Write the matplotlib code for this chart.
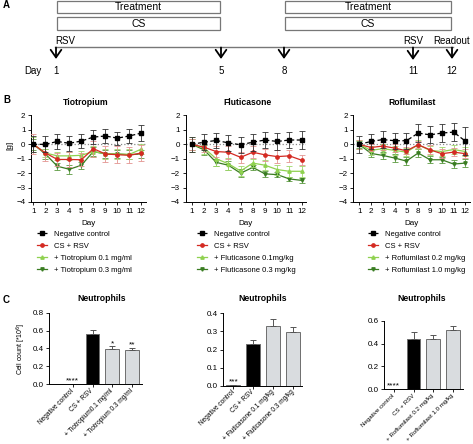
import numpy as np
import matplotlib.pyplot as plt
from matplotlib.patches import Rectangle
from matplotlib.lines import Line2D

plt.rcParams['font.family'] = ['Liberation Sans', 'DejaVu Sans']

W, H = 473, 444

# ---- data ----
# A: study timeline
timeline_days = [1, 5, 8, 11, 12]
timeline_events = ['RSV', '', '', 'RSV', 'Readout']
periods = [(1, 5), (8, 12)]

# B: body weight change [g]
days = [1, 2, 3, 4, 5, 8, 9, 10, 11, 12]
line_labels_common = ['Negative control', 'CS + RSV']

tio_labels = ['+ Tiotropium 0.1 mg/ml', '+ Tiotropium 0.3 mg/ml']
tio_neg = [0.0, 0.0, 0.2, 0.07, 0.23, 0.5, 0.58, 0.43, 0.58, 0.78]
tio_neg_err = [0.55, 0.55, 0.5, 0.5, 0.5, 0.5, 0.5, 0.45, 0.5, 0.55]
tio_cs = [0.0, -0.6, -1.05, -1.05, -1.07, -0.3, -0.67, -0.72, -0.76, -0.6]
tio_cs_err = [0.7, 0.55, 0.45, 0.5, 0.45, 0.55, 0.55, 0.6, 0.55, 0.55]
tio_low = [0.0, -0.6, -0.8, -0.8, -0.76, -0.5, -0.65, -0.67, -0.7, -0.33]
tio_low_err = [0.5, 0.3, 0.3, 0.3, 0.3, 0.35, 0.35, 0.35, 0.35, 0.35]
tio_high = [0.0, -0.67, -1.52, -1.73, -1.45, -0.5, -0.67, -0.67, -0.72, -0.67]
tio_high_err = [0.4, 0.35, 0.25, 0.3, 0.25, 0.3, 0.3, 0.3, 0.3, 0.3]

flu_labels = ['+ Fluticasone 0.1mg/kg', '+ Fluticasone 0.3 mg/kg']
flu_neg = [0.0, 0.15, 0.27, 0.1, -0.03, 0.15, 0.3, 0.2, 0.3, 0.3]
flu_neg_err = [0.5, 0.55, 0.55, 0.55, 0.55, 0.6, 0.55, 0.6, 0.55, 0.6]
flu_cs = [0.0, -0.2, -0.5, -0.55, -0.9, -0.55, -0.73, -0.85, -0.8, -1.1]
flu_cs_err = [0.4, 0.35, 0.4, 0.45, 0.4, 0.4, 0.4, 0.45, 0.4, 0.35]
flu_low = [0.0, -0.25, -1.0, -1.35, -1.85, -1.3, -1.45, -1.75, -1.87, -1.87]
flu_low_err = [0.5, 0.4, 0.5, 0.4, 0.35, 0.3, 0.35, 0.35, 0.4, 0.4]
flu_high = [0.0, -0.38, -1.25, -1.45, -2.0, -1.6, -2.05, -2.1, -2.4, -2.5]
flu_high_err = [0.4, 0.35, 0.25, 0.3, 0.3, 0.2, 0.2, 0.2, 0.15, 0.15]

rof_labels = ['+ Roflumilast 0.2 mg/kg', '+ Roflumilast 1.0 mg/kg']
rof_neg = [0.0, 0.2, 0.33, 0.25, 0.25, 0.78, 0.66, 0.78, 0.85, 0.22]
rof_neg_err = [0.6, 0.55, 0.6, 0.55, 0.55, 0.6, 0.6, 0.6, 0.6, 0.95]
rof_cs = [0.0, -0.22, -0.12, -0.26, -0.45, -0.03, -0.38, -0.65, -0.54, -0.65]
rof_cs_err = [0.3, 0.25, 0.25, 0.25, 0.25, 0.25, 0.3, 0.3, 0.3, 0.3]
rof_low = [0.0, -0.42, -0.3, -0.42, -0.54, -0.03, -0.42, -0.5, -0.36, -0.5]
rof_low_err = [0.3, 0.3, 0.3, 0.3, 0.3, 0.3, 0.3, 0.3, 0.3, 0.3]
rof_high = [0.0, -0.63, -0.77, -0.95, -1.16, -0.6, -1.07, -1.07, -1.37, -1.3]
rof_high_err = [0.25, 0.25, 0.25, 0.25, 0.25, 0.25, 0.25, 0.2, 0.25, 0.25]

# C: neutrophil counts
tio_bar_labels = ['Negative control', 'CS + RSV', '+ Tiotropium0.1 mg/ml', '+ Tiotropium 0.3 mg/ml']
tio_bar = [0.003, 0.56, 0.39, 0.38]
tio_bar_err = [0.0, 0.045, 0.035, 0.025]
tio_stars = ['****', '', '*', '**']

flu_bar_labels = ['Negative control', 'CS + RSV', '+ Fluticasone 0.1 mg/kg', '+ Fluticasone 0.3 mg/kg']
flu_bar = [0.005, 0.23, 0.33, 0.295]
flu_bar_err = [0.0, 0.02, 0.04, 0.03]
flu_stars = ['***', '', '', '']

rof_bar_labels = ['Negative control', 'CS + RSV', '+ Roflumilast 0.2 mg/kg', '+ Roflumilast 1.0 mg/kg']
rof_bar = [0.003, 0.437, 0.437, 0.518]
rof_bar_err = [0.0, 0.06, 0.04, 0.04]
rof_stars = ['****', '', '', '']

# ---- layout / styles ----
day_px = {1: 56, 5: 221, 8: 284, 11: 413, 12: 452}
RED = '#d42a22'
LGREEN = '#8fd14f'
DGREEN = '#3a7d22'
styles = [('black', 's', (0, (3, 2))), (RED, 'o', '-'), (LGREEN, '^', '-'), (DGREEN, 'v', '-')]
err_colors = ['#333333', '#e39490', '#9fd86a', '#5b9a3f']
TICK_FS = 5.8


def px_axes(fig, x0, y0, x1, y1):
    return fig.add_axes([x0 / W, 1 - y1 / H, (x1 - x0) / W, (y1 - y0) / H])


fig = plt.figure(figsize=(W / 100, H / 100), dpi=100)

# overlay in pixel coordinates for panel A and loose text
ov = fig.add_axes([0, 0, 1, 1])
ov.set_xlim(0, W)
ov.set_ylim(H, 0)
ov.axis('off')
ov.set_zorder(-1)

# ---- A ----
ov.text(3, 5, 'A', fontsize=7, fontweight='bold', va='center')
for d0, d1 in periods:
    x0, x1 = day_px[d0] + 1, day_px[d1] - 1
    for (y0, y1, name) in [(0.8, 13.2, 'Treatment'), (17.5, 30, 'CS')]:
        ov.add_patch(Rectangle((x0, y0), x1 - x0, y1 - y0, fill=False, ec='#777777', lw=0.9))
        ov.text((x0 + x1) / 2, (y0 + y1) / 2 + 0.3, name, fontsize=7.5, ha='center', va='center')
ov.plot([day_px[1] - 1, day_px[12] + 1], [47, 47], color='#777777', lw=1)
for d, ev in zip(timeline_days, timeline_events):
    x = day_px[d]
    yoff = 1 if d == 11 else 0
    ov.annotate('', xy=(x, 59 + yoff), xytext=(x, 47.5),
                arrowprops=dict(arrowstyle='->,head_length=0.5,head_width=0.35', lw=1.3,
                                color='black', mutation_scale=11, shrinkA=0, shrinkB=0))
    ov.text(x, 70.5 + yoff, str(d), fontsize=7, ha='center', va='center')
    if ev:
        ha = 'left' if d == 1 else 'center'
        ov.text(x - 1 if d == 1 else x, 40.5, ev, fontsize=7, ha=ha, va='center')
ov.text(33, 70.5, 'Day', fontsize=7, ha='center', va='center')

# ---- B ----
ov.text(3, 100, 'B', fontsize=7, fontweight='bold', va='center')
line_panels = [
    ('Tiotropium', (31, 145.5), (-0.2, 9.35), 86, 37,
     [tio_neg, tio_cs, tio_low, tio_high], [tio_neg_err, tio_cs_err, tio_low_err, tio_high_err], tio_labels),
    ('Fluticasone', (185.7, 306), (-0.5, 9.36), 247, 197,
     [flu_neg, flu_cs, flu_low, flu_high], [flu_neg_err, flu_cs_err, flu_low_err, flu_high_err], flu_labels),
    ('Roflumilast', (353.3, 470), (-0.5, 9.39), 412, 368,
     [rof_neg, rof_cs, rof_low, rof_high], [rof_neg_err, rof_cs_err, rof_low_err, rof_high_err], rof_labels),
]
x = np.arange(len(days))
for i, (title, (xa, xb), xl, tx, lx, vals, errs, labels) in enumerate(line_panels):
    ax = px_axes(fig, xa, 115.5, xb, 202)
    ax.axhline(0, color='#888888', ls=':', lw=0.9, zorder=0)
    for k in [3, 2, 1, 0]:
        color, marker, ls = styles[k]
        ax.errorbar(x, vals[k], yerr=errs[k], color=color, marker=marker, ms=2.4, lw=0.9, ls=ls,
                    ecolor=err_colors[k], elinewidth=0.6, capsize=2, capthick=0.6, zorder=2 + (3 - k))
    ax.set_xlim(*xl)
    ax.set_ylim(-4, 2)
    ax.set_yticks(range(-4, 3))
    ax.set_xticks(x, [str(d) for d in days])
    ax.tick_params(labelsize=TICK_FS, length=2.5, width=0.6, pad=1.5)
    for s in ['top', 'right']:
        ax.spines[s].set_visible(False)
    for s in ['left', 'bottom']:
        ax.spines[s].set_linewidth(0.7)
    ax.set_xlabel('Day', fontsize=TICK_FS, labelpad=4)
    if i == 0:
        ov.text(10, 145, '[g]', fontsize=TICK_FS, rotation=90, ha='center', va='center')
    ov.text(tx, 102, title, fontsize=6.2, fontweight='bold', ha='center', va='center')
    handles = [Line2D([], [], color=c, marker=m, ls=l, lw=0.9, ms=2.4) for c, m, l in styles]
    ax.legend(handles, line_labels_common + labels, loc='upper left',
              bbox_to_anchor=(lx / W, 1 - 230.5 / H), bbox_transform=fig.transFigure,
              frameon=False, fontsize=5.5, handlelength=1.3, handletextpad=0.9,
              labelspacing=0.62, borderpad=0, borderaxespad=0)

# ---- C ----
ov.text(3, 300, 'C', fontsize=7, fontweight='bold', va='center')
bar_panels = [
    ((49.3, 312.7, 141.7, 384.3), (-1.18, 3.48), 0.8, [0, 0.2, 0.4, 0.6, 0.8], 102, 4.7,
     tio_bar, tio_bar_err, tio_stars, tio_bar_labels),
    ((223.3, 313.3, 301.7, 385.7), (-0.5, 3.42), 0.4, [0, 0.1, 0.2, 0.3, 0.4], 262.5, 4.7,
     flu_bar, flu_bar_err, flu_stars, flu_bar_labels),
    ((384, 320.7, 462.7, 389.3), (-0.5, 3.5), 0.6, [0, 0.2, 0.4, 0.6], 422, 4.4,
     rof_bar, rof_bar_err, rof_stars, rof_bar_labels),
]
for i, (box, xl, ytop, yt, tx, lfs, vals, errs, stars, labels) in enumerate(bar_panels):
    ax = px_axes(fig, *box)
    xb = np.arange(len(vals))
    colors = ['#d9dcdf', 'black', '#d9dcdf', '#d9dcdf']
    ax.bar(xb, vals, width=0.7, color=colors, edgecolor='#6e6e6e', lw=0.7,
           yerr=[np.zeros(len(errs)), errs], capsize=2,
           error_kw=dict(ecolor='#555555', elinewidth=0.7, capthick=0.7))
    for xi, v, e, s in zip(xb, vals, errs, stars):
        if s:
            ax.text(xi, v + e - 0.01 * ytop, s, fontsize=6, ha='center', va='bottom')
    ax.set_xlim(*xl)
    ax.set_ylim(0, ytop)
    ax.set_yticks(yt, ['%.1f' % t for t in yt])
    ax.set_xticks(xb, labels, rotation=45, ha='right', va='center',
                  rotation_mode='anchor', fontsize=lfs)
    ax.tick_params(axis='y', labelsize=TICK_FS)
    ax.tick_params(length=2.5, width=0.6, pad=1.5)
    ax.tick_params(axis='x', pad=1.5)
    for s in ['top', 'right']:
        ax.spines[s].set_visible(False)
    for s in ['left', 'bottom']:
        ax.spines[s].set_linewidth(0.7)
    if i == 0:
        ax.set_ylabel('Cell count [*10$^6$]', fontsize=5, labelpad=3)
    ov.text(tx, 298.5, 'Neutrophils', fontsize=6.2, fontweight='bold', ha='center', va='center')

fig.savefig('out.png', dpi=100)
